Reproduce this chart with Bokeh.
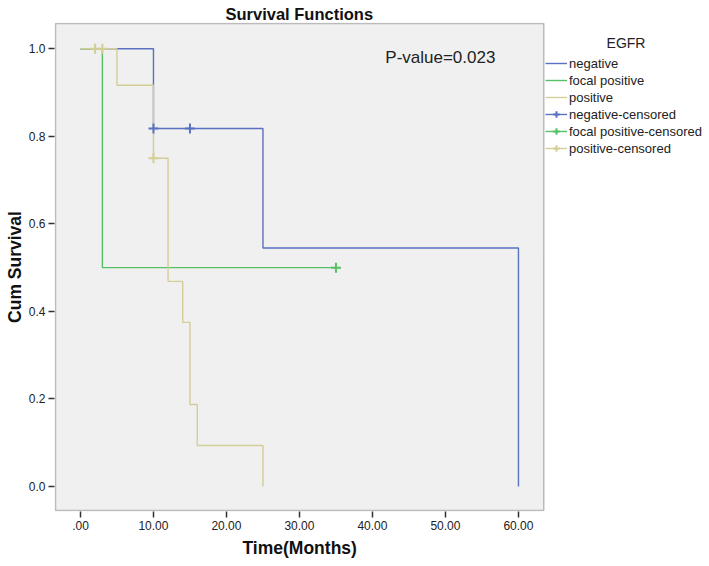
from bokeh.plotting import figure
from bokeh.models import Range1d, FixedTicker, Label, Legend, LegendItem, NumeralTickFormatter, BoxAnnotation, Title
from bokeh.embed import file_html
from bokeh.resources import INLINE

# ---- data ----
neg_t = [0, 10, 25, 60]
neg_s = [1.0, 0.818, 0.545, 0.0]
foc_t = [0, 3, 35]
foc_s = [1.0, 0.5, 0.5]
pos_t = [0, 5, 10, 12, 14, 15, 16, 25]
pos_s = [1.0, 0.9167, 0.75, 0.46875, 0.375, 0.1875, 0.09375, 0.0]

neg_cens_t = [10, 15]
neg_cens_s = [0.818, 0.818]
foc_cens_t = [35]
foc_cens_s = [0.5]
pos_cens_t = [2, 3, 10]
pos_cens_s = [1.0, 1.0, 0.75]

x_ticks = [0, 10, 20, 30, 40, 50, 60]
x_tick_labels = [".00", "10.00", "20.00", "30.00", "40.00", "50.00", "60.00"]
y_ticks = [0.0, 0.2, 0.4, 0.6, 0.8, 1.0]

group_names = ["negative", "focal positive", "positive"]
colors = ["#5a70c0", "#55c065", "#d3ce97"]

# plotting-area box (data units)
box_x0, box_x1 = -3.42, 63.47
box_y0, box_y1 = -0.055, 1.058

FONT = "Liberation Sans"

p = figure(width=709, height=566, output_backend="svg", toolbar_location=None,
           x_range=Range1d(-3.557, 86.17), y_range=Range1d(-0.0571, 1.0601),
           min_border_left=54, min_border_right=0, min_border_top=22, min_border_bottom=55)

p.background_fill_color = "white"
p.border_fill_color = "white"
p.outline_line_color = None
p.xgrid.visible = False
p.ygrid.visible = False

# titles (placed in the side panels so that they are not clipped)
p.title.text = "Survival Functions"
p.title.align = "left"
p.title.offset = 171
p.title.standoff = 0
p.title.vertical_align = "bottom"
p.title.text_font = FONT
p.title.text_font_size = "16.5px"
p.title.text_font_style = "bold"
p.title.text_color = "#111111"

p.add_layout(BoxAnnotation(left=box_x0, right=box_x1, bottom=box_y0, top=box_y1,
                           fill_color="#f0f0f0", fill_alpha=1.0,
                           line_color="#333333", line_width=1.5, level="underlay"))

# axes
p.xaxis.ticker = FixedTicker(ticks=x_ticks)
p.xaxis.major_label_overrides = {t: l for t, l in zip(x_ticks, x_tick_labels)}
p.yaxis.ticker = FixedTicker(ticks=y_ticks)
p.yaxis.formatter = NumeralTickFormatter(format="0.0")
for ax in (p.xaxis, p.yaxis):
    ax.axis_line_color = None
    ax.major_tick_in = 0
    ax.major_tick_out = 6
    ax.major_tick_line_color = "#333333"
    ax.major_tick_line_width = 1.5
    ax.minor_tick_line_color = None
    ax.major_label_text_font = FONT
    ax.major_label_text_font_size = "12px"
    ax.major_label_text_color = "#222222"
    ax.major_label_standoff = 3
    ax.axis_label_text_font = FONT
    ax.axis_label_text_font_style = "bold"
    ax.axis_label_text_color = "#111111"
    ax.axis_label_text_font_size = "17.5px"
p.yaxis.axis_label = "Cum Survival"
p.yaxis.axis_label_standoff = 1

xlabel = Title(text="Time(Months)", align="left", offset=188, standoff=10, vertical_align="top",
               text_font=FONT, text_font_size="17.5px", text_font_style="bold", text_color="#111111")
p.add_layout(xlabel, "below")

# curves
times = [neg_t, foc_t, pos_t]
survs = [neg_s, foc_s, pos_s]
cens_t = [neg_cens_t, foc_cens_t, pos_cens_t]
cens_s = [neg_cens_s, foc_cens_s, pos_cens_s]

line_rs = []
for t, s, c in zip(times, survs, colors):
    r = p.step(t, s, mode="after", line_color=c, line_width=1.4)
    line_rs.append(r)

cens_rs = []
for t, s, c in zip(cens_t, cens_s, colors):
    r = p.scatter(t, s, marker="cross", size=10, line_color=c, line_width=2)
    cens_rs.append(r)

items = [LegendItem(label=n, renderers=[r]) for n, r in zip(group_names, line_rs)]
items += [LegendItem(label=n + "-censored", renderers=[lr, r])
          for n, lr, r in zip(group_names, line_rs, cens_rs)]

legend = Legend(items=items, location=(491, 355), orientation="vertical",
                label_text_font=FONT, label_text_font_size="13px", label_text_color="#222222",
                glyph_width=22, glyph_height=16, label_height=16, label_standoff=2,
                spacing=1, padding=0, margin=0,
                border_line_color=None, background_fill_alpha=0)
p.add_layout(legend)

# texts inside the (extended) frame
p.add_layout(Label(x=49.3, y=0.981, text="P-value=0.023", text_align="center",
                   text_baseline="alphabetic", text_font=FONT, text_font_size="17px",
                   text_color="#222222"))
p.add_layout(Label(x=74.73, y=1.0144, text="EGFR", text_align="center",
                   text_baseline="middle", text_font=FONT, text_font_size="14px",
                   text_color="#222222"))

open("out.html", "w").write(file_html(p, INLINE))
